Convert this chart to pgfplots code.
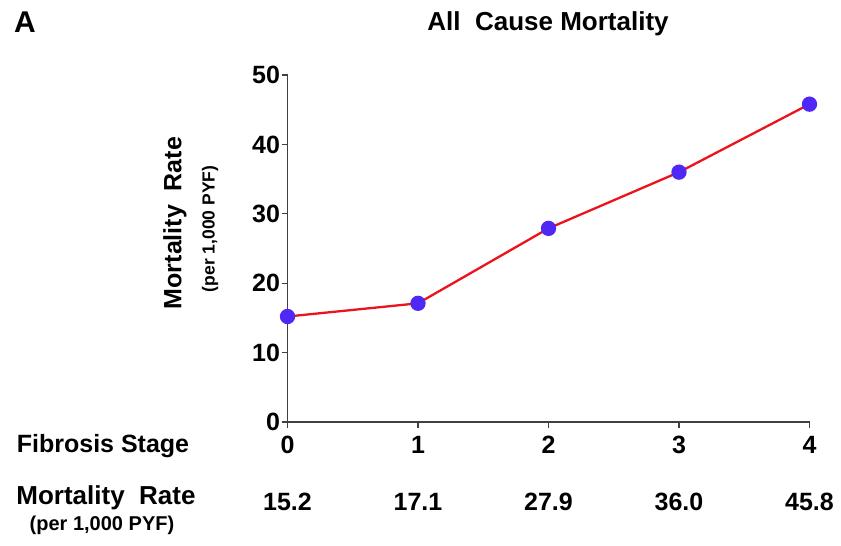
\documentclass[border=0pt]{standalone}
\usepackage{pgfplots}
\pgfplotsset{compat=1.18}
\usepackage{fontspec}
\setmainfont{Liberation Sans}
\definecolor{markblue}{RGB}{80,40,245}
\definecolor{linered}{RGB}{235,20,30}
\begin{document}
\begin{tikzpicture}[x=1pt,y=1pt]
\useasboundingbox (0,0) rectangle (841,546);
\node[font=\bfseries\fontsize{30}{30}\selectfont, anchor=west, inner sep=0pt] at (14,524) {A};
\node[font=\bfseries\fontsize{26}{26}\selectfont] at (548,522) {All\ \ Cause Mortality};
\node[font=\bfseries\fontsize{25}{25}\selectfont, rotate=90] at (175,323) {Mortality\ \ Rate};
\node[font=\bfseries\fontsize{17.5}{17.5}\selectfont, rotate=90] at (210,317) {(per 1,000 PYF)};
\node[font=\bfseries\fontsize{25}{25}\selectfont] at (103,100) {Fibrosis Stage};
\node[font=\bfseries\fontsize{26}{26}\selectfont] at (106,48) {Mortality\ \ Rate};
\node[font=\bfseries\fontsize{20}{20}\selectfont] at (102,21) {(per 1,000 PYF)};
\begin{axis}[
  at={(287.5pt,124pt)}, anchor=south west,
  scale only axis, width=522pt, height=347pt,
  xmin=0, xmax=4, ymin=0, ymax=50,
  axis lines*=left,
  axis line style={line width=1.3pt, black!75},
  xtick={0,1,2,3,4}, ytick={0,10,20,30,40,50},
  tick align=outside, major tick length=6pt,
  tick style={line width=1.3pt, black!75},
  /pgf/number format/assume math mode=true,
  ticklabel style={font=\bfseries\fontsize{25}{25}\selectfont},
  xticklabel style={yshift=-5pt},
  yticklabel style={xshift=2pt},
  clip=false,
]
\addplot[linered, line width=2.3pt, mark=*, mark size=6.5pt,
  mark options={fill=markblue, draw=markblue}] coordinates {
  (0,15.2) (1,17.1) (2,27.9) (3,36.0) (4,45.8)};
\node[font=\bfseries\fontsize{25}{25}\selectfont] at (axis cs:0,-11.5) {15.2};
\node[font=\bfseries\fontsize{25}{25}\selectfont] at (axis cs:1,-11.5) {17.1};
\node[font=\bfseries\fontsize{25}{25}\selectfont] at (axis cs:2,-11.5) {27.9};
\node[font=\bfseries\fontsize{25}{25}\selectfont] at (axis cs:3,-11.5) {36.0};
\node[font=\bfseries\fontsize{25}{25}\selectfont] at (axis cs:4,-11.5) {45.8};
\end{axis}
\end{tikzpicture}
\end{document}
